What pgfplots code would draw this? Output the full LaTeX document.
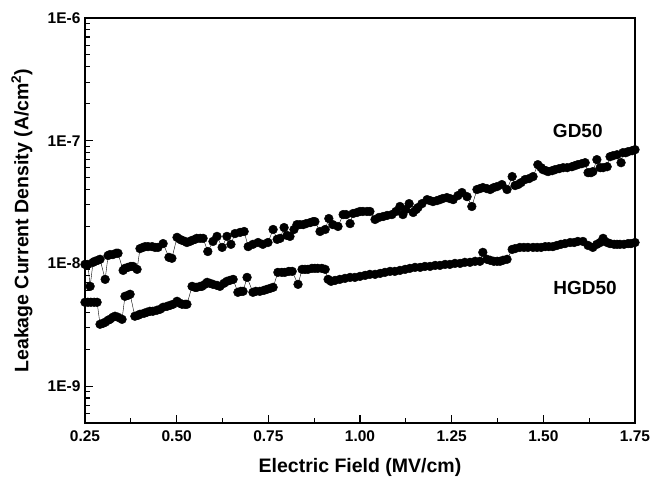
\documentclass[border=0pt]{standalone}
\usepackage{fontspec}
\setmainfont{Liberation Sans}
\usepackage{pgfplots}
\pgfplotsset{compat=1.18}
\begin{document}
\begin{tikzpicture}
\begin{axis}[name=ax,
  scale only axis, width=550pt, height=405pt,
  xmin=0.25, xmax=1.75,
  ymode=log, ymin=5e-10, ymax=1e-6,
  axis line style={line width=1.3pt},
  tick align=inside, xtick pos=bottom, ytick pos=left,
  major tick length=8pt, minor tick length=5pt,
  every tick/.style={line width=1.1pt, black},
  xtick={0.25,0.5,0.75,1.0,1.25,1.5,1.75},
  xticklabels={0.25,0.50,0.75,1.00,1.25,1.50,1.75},
  minor xtick={0.375,0.625,0.875,1.125,1.375,1.625},
  ytick={1e-9,1e-8,1e-7,1e-6},
  yticklabels={1E-9,1E-8,1E-7,1E-6},
  minor ytick={6e-10,7e-10,8e-10,9e-10,2e-9,3e-9,4e-9,5e-9,6e-9,7e-9,8e-9,9e-9,2e-8,3e-8,4e-8,5e-8,6e-8,7e-8,8e-8,9e-8,2e-7,3e-7,4e-7,5e-7,6e-7,7e-7,8e-7,9e-7},
  tick label style={font=\fontsize{15.5}{16}\selectfont\bfseries},
  xticklabel style={yshift=-4pt},
  yticklabel style={xshift=-1pt},
  xlabel={Electric Field (MV/cm)},
  ylabel={Leakage Current Density (A/cm\textsuperscript{2})},
  every axis x label/.style={at={(axis description cs:0.5,-0.109)}, anchor=center, font=\fontsize{19.5}{21}\selectfont\bfseries},
  every axis y label/.style={at={(axis description cs:-0.1145,0.5)}, rotate=90, anchor=center, font=\fontsize{19.5}{21}\selectfont\bfseries},
  clip=false,
]
\addplot[black, line width=0.4pt, mark=*, mark size=4.4pt, mark options={solid, fill=black}] coordinates {
(0.250,9.81e-9)(0.258,9.81e-9)(0.264,6.50e-9)(0.272,1.02e-8)(0.277,1.04e-8)(0.285,1.06e-8)(0.291,1.08e-8)(0.305,7.41e-9)(0.313,1.16e-8)(0.318,1.18e-8)(0.326,1.18e-8)(0.335,1.21e-8)(0.340,1.21e-8)(0.354,8.77e-9)(0.359,9.11e-9)(0.367,9.28e-9)(0.375,9.45e-9)(0.381,9.45e-9)(0.392,8.94e-9)(0.400,1.32e-8)(0.408,1.35e-8)(0.414,1.37e-8)(0.422,1.37e-8)(0.433,1.37e-8)(0.441,1.35e-8)(0.449,1.35e-8)(0.463,1.45e-8)(0.479,1.12e-8)(0.487,1.10e-8)(0.501,1.63e-8)(0.509,1.57e-8)(0.515,1.54e-8)(0.523,1.51e-8)(0.528,1.48e-8)(0.536,1.51e-8)(0.542,1.54e-8)(0.550,1.57e-8)(0.555,1.60e-8)(0.564,1.60e-8)(0.572,1.60e-8)(0.585,1.25e-8)(0.599,1.51e-8)(0.610,1.66e-8)(0.624,1.35e-8)(0.637,1.66e-8)(0.648,1.43e-8)(0.659,1.75e-8)(0.673,1.79e-8)(0.684,1.82e-8)(0.695,1.37e-8)(0.708,1.43e-8)(0.722,1.48e-8)(0.735,1.43e-8)(0.749,1.48e-8)(0.763,1.89e-8)(0.774,1.57e-8)(0.782,1.60e-8)(0.793,1.96e-8)(0.801,1.69e-8)(0.809,1.66e-8)(0.820,1.89e-8)(0.828,2.07e-8)(0.836,2.07e-8)(0.845,2.07e-8)(0.853,2.11e-8)(0.864,2.15e-8)(0.872,2.19e-8)(0.877,2.19e-8)(0.891,1.82e-8)(0.905,1.89e-8)(0.915,2.32e-8)(0.926,2.07e-8)(0.940,2.00e-8)(0.954,2.50e-8)(0.962,2.50e-8)(0.973,2.11e-8)(0.981,2.55e-8)(0.992,2.60e-8)(1.000,2.65e-8)(1.008,2.65e-8)(1.019,2.65e-8)(1.027,2.65e-8)(1.041,2.28e-8)(1.052,2.37e-8)(1.063,2.41e-8)(1.074,2.46e-8)(1.087,2.50e-8)(1.098,2.65e-8)(1.109,2.91e-8)(1.117,2.50e-8)(1.125,2.75e-8)(1.134,3.07e-8)(1.145,2.60e-8)(1.153,2.75e-8)(1.158,2.85e-8)(1.169,3.07e-8)(1.183,3.31e-8)(1.191,3.25e-8)(1.199,3.19e-8)(1.210,3.25e-8)(1.218,3.31e-8)(1.226,3.38e-8)(1.237,3.44e-8)(1.245,3.38e-8)(1.254,3.31e-8)(1.267,3.57e-8)(1.278,3.78e-8)(1.292,3.50e-8)(1.305,2.91e-8)(1.319,4.00e-8)(1.327,4.07e-8)(1.335,4.15e-8)(1.346,4.07e-8)(1.355,4.00e-8)(1.365,4.15e-8)(1.374,4.23e-8)(1.387,4.39e-8)(1.401,4.00e-8)(1.415,5.10e-8)(1.423,4.31e-8)(1.431,4.39e-8)(1.439,4.55e-8)(1.450,4.82e-8)(1.461,4.91e-8)(1.472,5.10e-8)(1.485,6.38e-8)(1.494,6.03e-8)(1.499,5.81e-8)(1.507,5.70e-8)(1.513,5.60e-8)(1.524,5.70e-8)(1.532,5.81e-8)(1.543,5.92e-8)(1.554,6.03e-8)(1.565,6.03e-8)(1.578,6.14e-8)(1.586,6.26e-8)(1.594,6.38e-8)(1.605,6.50e-8)(1.614,6.62e-8)(1.622,5.49e-8)(1.630,5.49e-8)(1.635,5.60e-8)(1.646,7.01e-8)(1.655,6.03e-8)(1.663,6.03e-8)(1.674,6.14e-8)(1.682,7.41e-8)(1.690,7.55e-8)(1.701,7.69e-8)(1.712,6.62e-8)(1.717,7.99e-8)(1.725,7.99e-8)(1.731,8.14e-8)(1.742,8.29e-8)(1.750,8.45e-8)
};
\addplot[black, line width=0.4pt, mark=*, mark size=4.4pt, mark options={solid, fill=black}] coordinates {
(0.250,4.82e-9)(0.258,4.82e-9)(0.266,4.82e-9)(0.275,4.82e-9)(0.283,4.82e-9)(0.291,3.19e-9)(0.299,3.25e-9)(0.305,3.31e-9)(0.313,3.44e-9)(0.318,3.50e-9)(0.326,3.64e-9)(0.332,3.71e-9)(0.340,3.64e-9)(0.351,3.50e-9)(0.359,5.39e-9)(0.367,5.49e-9)(0.373,5.60e-9)(0.386,3.71e-9)(0.395,3.78e-9)(0.400,3.85e-9)(0.411,3.92e-9)(0.419,4.00e-9)(0.427,4.07e-9)(0.435,4.07e-9)(0.446,4.15e-9)(0.455,4.23e-9)(0.463,4.39e-9)(0.474,4.47e-9)(0.482,4.55e-9)(0.490,4.64e-9)(0.501,4.91e-9)(0.509,4.73e-9)(0.515,4.64e-9)(0.523,4.64e-9)(0.528,4.64e-9)(0.542,6.50e-9)(0.550,6.38e-9)(0.555,6.38e-9)(0.564,6.50e-9)(0.569,6.50e-9)(0.577,6.75e-9)(0.583,7.01e-9)(0.591,6.88e-9)(0.599,6.75e-9)(0.610,6.62e-9)(0.618,6.50e-9)(0.629,6.88e-9)(0.637,7.14e-9)(0.645,7.27e-9)(0.654,7.41e-9)(0.667,5.81e-9)(0.675,5.92e-9)(0.681,5.92e-9)(0.692,7.69e-9)(0.708,5.81e-9)(0.716,5.92e-9)(0.727,5.92e-9)(0.738,6.03e-9)(0.746,6.14e-9)(0.755,6.26e-9)(0.763,6.38e-9)(0.776,8.45e-9)(0.787,8.45e-9)(0.795,8.45e-9)(0.806,8.61e-9)(0.815,8.61e-9)(0.831,6.75e-9)(0.842,8.94e-9)(0.850,8.94e-9)(0.858,8.94e-9)(0.869,9.11e-9)(0.877,9.11e-9)(0.885,9.11e-9)(0.896,9.11e-9)(0.905,8.94e-9)(0.913,7.41e-9)(0.921,7.14e-9)(0.932,7.27e-9)(0.945,7.41e-9)(0.959,7.55e-9)(0.973,7.69e-9)(0.986,7.69e-9)(1.000,7.84e-9)(1.014,7.99e-9)(1.027,8.14e-9)(1.041,8.14e-9)(1.055,8.29e-9)(1.068,8.45e-9)(1.082,8.61e-9)(1.095,8.61e-9)(1.109,8.77e-9)(1.123,8.94e-9)(1.136,9.11e-9)(1.150,9.28e-9)(1.164,9.28e-9)(1.177,9.45e-9)(1.191,9.45e-9)(1.205,9.63e-9)(1.218,9.63e-9)(1.232,9.81e-9)(1.245,9.81e-9)(1.259,1.00e-8)(1.273,1.00e-8)(1.286,1.02e-8)(1.300,1.02e-8)(1.314,1.04e-8)(1.327,1.04e-8)(1.335,1.23e-8)(1.346,1.08e-8)(1.355,1.06e-8)(1.365,1.04e-8)(1.374,1.04e-8)(1.382,1.04e-8)(1.390,1.06e-8)(1.401,1.08e-8)(1.415,1.30e-8)(1.423,1.32e-8)(1.436,1.35e-8)(1.447,1.35e-8)(1.458,1.35e-8)(1.472,1.35e-8)(1.483,1.35e-8)(1.494,1.35e-8)(1.505,1.37e-8)(1.515,1.37e-8)(1.526,1.37e-8)(1.537,1.40e-8)(1.548,1.43e-8)(1.559,1.45e-8)(1.573,1.48e-8)(1.584,1.48e-8)(1.594,1.51e-8)(1.608,1.51e-8)(1.622,1.40e-8)(1.635,1.35e-8)(1.646,1.43e-8)(1.655,1.48e-8)(1.663,1.60e-8)(1.674,1.48e-8)(1.682,1.45e-8)(1.693,1.43e-8)(1.701,1.43e-8)(1.709,1.43e-8)(1.720,1.43e-8)(1.731,1.45e-8)(1.739,1.45e-8)(1.750,1.48e-8)
};
\node[font=\fontsize{19}{20}\selectfont\bfseries] at (axis cs:1.594,1.205e-7) {GD50};
\node[font=\fontsize{19}{20}\selectfont\bfseries] at (axis cs:1.614,6.26e-9) {HGD50};
\end{axis}
\pgfresetboundingbox
\path[use as bounding box] ([xshift=-85pt,yshift=-58pt]ax.south west) rectangle ([xshift=16pt,yshift=18pt]ax.north east);
\end{tikzpicture}
\end{document}
